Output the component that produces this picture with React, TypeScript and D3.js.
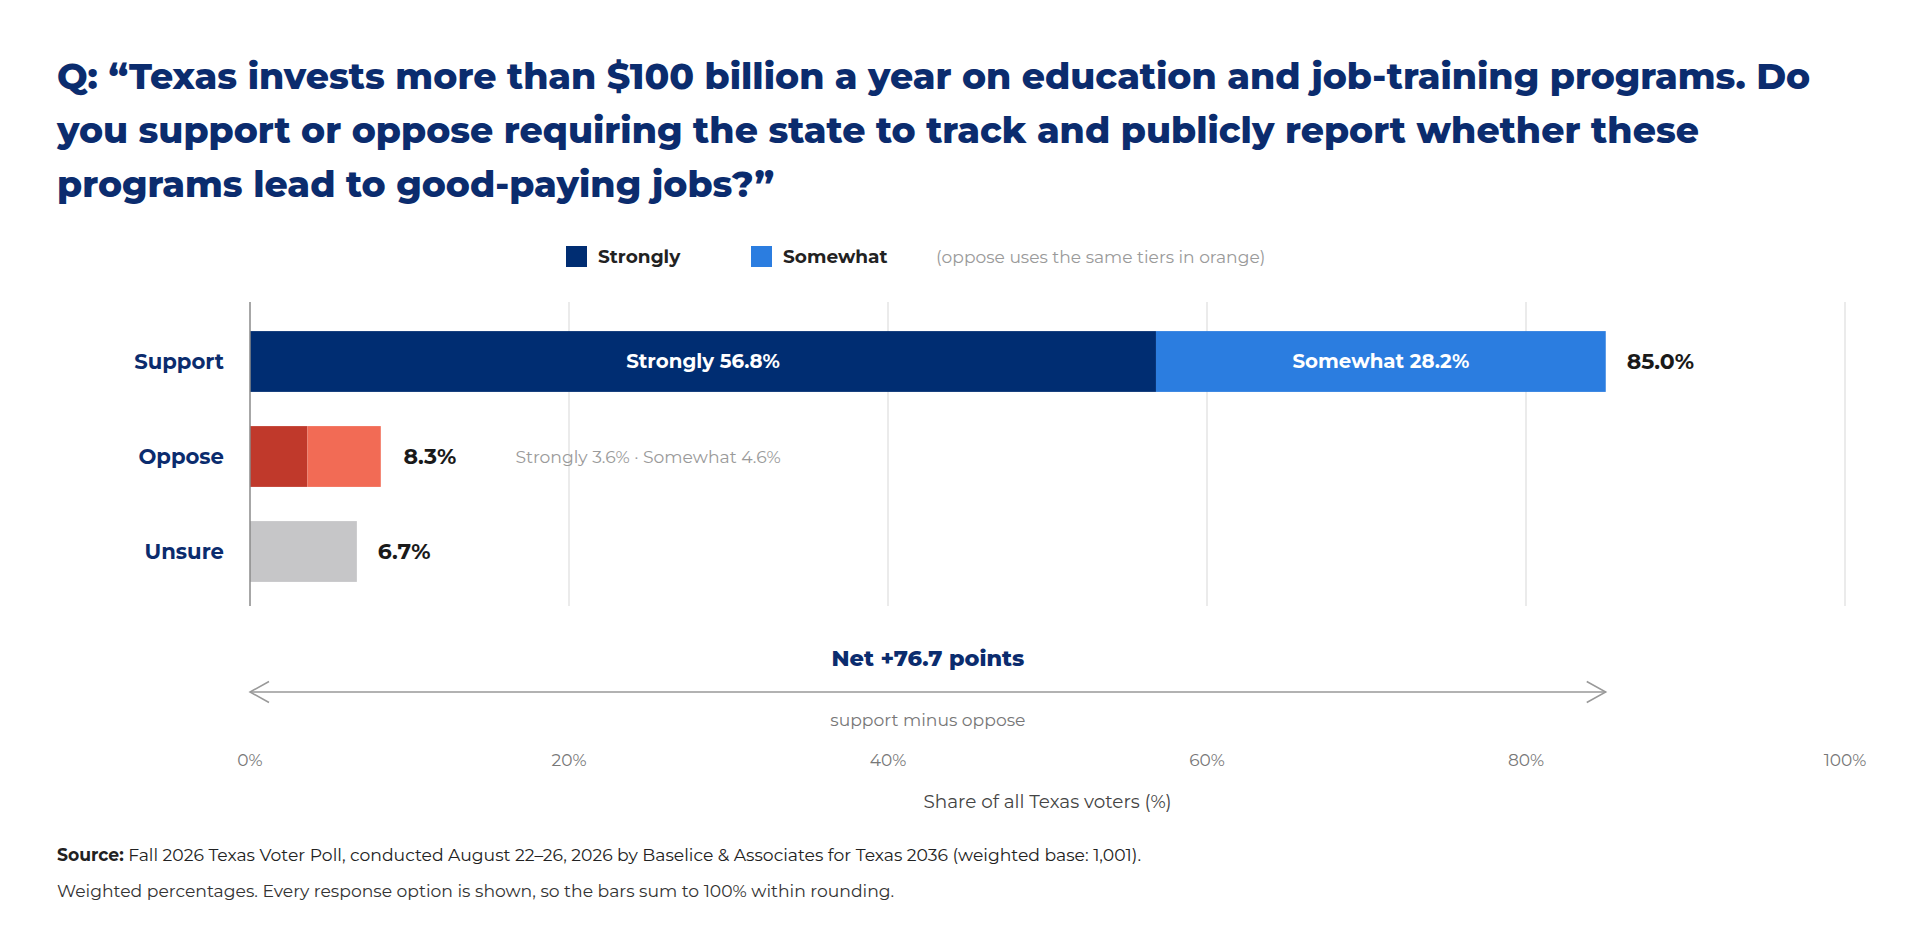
import { useEffect, useRef } from 'react'
import * as d3 from 'd3'

// Survey results (share of all Texas voters, %)
const categories = ['Support', 'Oppose', 'Unsure']
const stronglyValues = [56.8, 3.6, 0]
const somewhatValues = [28.2, 4.6, 0]
const totals = [85.0, 8.3, 6.7]
const xTicks = [0, 20, 40, 60, 80, 100]
const netValue = 76.7

const titleLines = [
  'Q: \u201cTexas invests more than $100 billion a year on education and job-training programs. Do',
  'you support or oppose requiring the state to track and publicly report whether these',
  'programs lead to good-paying jobs?\u201d',
]

const NAVY = '#0b2c6e'
const FONT = "Montserrat, 'Open Sans', sans-serif"

export default function App() {
  const svgRef = useRef<SVGSVGElement>(null)

  useEffect(() => {
    if (!svgRef.current) return
    const svg = d3.select(svgRef.current)
    svg.selectAll('*').remove()

    const width = 1918
    const height = 945
    const plotTop = 302
    const plotBottom = 606

    svg.append('rect').attr('width', width).attr('height', height).attr('fill', '#fff')

    // Title
    const title = svg.append('text')
      .attr('font-family', FONT)
      .attr('font-weight', 800)
      .attr('font-size', 36.2)
      .attr('fill', NAVY)
    titleLines.forEach((line, i) => {
      title.append('tspan').attr('x', 57).attr('y', 89 + i * 54).text(line)
    })

    const x = d3.scaleLinear().domain([0, 100]).range([250, 1845])
    const y = d3.scaleBand<string>()
      .domain(categories)
      .range([314, 599])
      .paddingInner(0.36)
      .paddingOuter(0.18)

    // Legend
    const legend = svg.append('g').attr('font-family', FONT)
    const legendItems = [
      { label: 'Strongly', color: '#002d72', x: 566 },
      { label: 'Somewhat', color: '#2b7de0', x: 751 },
    ]
    legendItems.forEach(d => {
      legend.append('rect').attr('x', d.x).attr('y', 246).attr('width', 21).attr('height', 21).attr('fill', d.color)
      legend.append('text').attr('x', d.x + 32).attr('y', 257).attr('dy', '0.35em')
        .attr('font-size', 18.5).attr('font-weight', 700).attr('fill', '#222').text(d.label)
    })
    legend.append('text').attr('x', 936).attr('y', 257).attr('dy', '0.35em')
      .attr('font-size', 17.1).attr('fill', '#9a9a9a').text('(oppose uses the same tiers in orange)')

    // Grid
    svg.append('g')
      .selectAll('line')
      .data(xTicks.slice(1))
      .join('line')
      .attr('x1', d => x(d)).attr('x2', d => x(d))
      .attr('y1', plotTop).attr('y2', plotBottom)
      .attr('stroke', '#e4e4e4').attr('stroke-width', 1.5)

    // Bars
    const barColors: Record<string, [string, string]> = {
      Support: ['#002d72', '#2b7de0'],
      Oppose: ['#c0392b', '#f26b55'],
    }
    const bars = svg.append('g')
    categories.forEach((cat, i) => {
      const y0 = y(cat)!
      const bh = y.bandwidth()
      if (barColors[cat]) {
        const s = stronglyValues[i]
        const w = somewhatValues[i]
        bars.append('rect').attr('x', x(0)).attr('y', y0).attr('width', x(s) - x(0)).attr('height', bh).attr('fill', barColors[cat][0])
        bars.append('rect').attr('x', x(s)).attr('y', y0).attr('width', x(s + w) - x(s)).attr('height', bh).attr('fill', barColors[cat][1])
      } else {
        bars.append('rect').attr('x', x(0)).attr('y', y0).attr('width', x(totals[i]) - x(0)).attr('height', bh).attr('fill', '#c6c6c8')
      }
    })

    // In-bar labels for Support
    const sIdx = 0
    const yc = y(categories[sIdx])! + y.bandwidth() / 2
    bars.append('text')
      .attr('x', x(stronglyValues[sIdx] / 2)).attr('y', yc).attr('dy', '0.35em')
      .attr('text-anchor', 'middle').attr('font-family', FONT).attr('font-weight', 700)
      .attr('font-size', 19.8).attr('fill', '#fff')
      .text(`Strongly ${stronglyValues[sIdx].toFixed(1)}%`)
    bars.append('text')
      .attr('x', x(stronglyValues[sIdx] + somewhatValues[sIdx] / 2)).attr('y', yc).attr('dy', '0.35em')
      .attr('text-anchor', 'middle').attr('font-family', FONT).attr('font-weight', 700)
      .attr('font-size', 19.8).attr('fill', '#fff')
      .text(`Somewhat ${somewhatValues[sIdx].toFixed(1)}%`)

    // Total labels
    svg.append('g')
      .selectAll('text')
      .data(categories)
      .join('text')
      .attr('x', (d, i) => x(totals[i]) + 21)
      .attr('y', d => y(d)! + y.bandwidth() / 2)
      .attr('dy', '0.35em')
      .attr('font-family', FONT).attr('font-weight', 700).attr('font-size', 22)
      .attr('fill', '#1a1a1a')
      .text((d, i) => `${totals[i].toFixed(1)}%`)

    // Oppose breakdown note
    const oIdx = 1
    svg.append('text')
      .attr('x', x(totals[oIdx]) + 133)
      .attr('y', y(categories[oIdx])! + y.bandwidth() / 2)
      .attr('dy', '0.35em')
      .attr('font-family', FONT).attr('font-size', 17.2).attr('fill', '#9a9a9a')
      .text(`Strongly ${stronglyValues[oIdx].toFixed(1)}% \u00b7 Somewhat ${somewhatValues[oIdx].toFixed(1)}%`)

    // Category labels
    svg.append('g')
      .selectAll('text')
      .data(categories)
      .join('text')
      .attr('x', 224)
      .attr('y', d => y(d)! + y.bandwidth() / 2)
      .attr('dy', '0.35em')
      .attr('text-anchor', 'end')
      .attr('font-family', FONT).attr('font-weight', 700).attr('font-size', 21.2)
      .attr('fill', NAVY)
      .text(d => d)

    // Zero line
    svg.append('line')
      .attr('x1', x(0)).attr('x2', x(0))
      .attr('y1', plotTop).attr('y2', plotBottom)
      .attr('stroke', '#8a8a8a').attr('stroke-width', 1.5)

    // Net annotation
    const arrowY = 692
    const ax0 = x(0)
    const ax1 = x(totals[0])
    const net = svg.append('g').attr('font-family', FONT)
    net.append('text')
      .attr('x', (ax0 + ax1) / 2).attr('y', 658).attr('dy', '0.35em')
      .attr('text-anchor', 'middle').attr('font-weight', 800).attr('font-size', 22.4)
      .attr('fill', NAVY).text(`Net +${netValue.toFixed(1)} points`)
    net.append('line')
      .attr('x1', ax0).attr('x2', ax1).attr('y1', arrowY).attr('y2', arrowY)
      .attr('stroke', '#999').attr('stroke-width', 1.5)
    net.append('path')
      .attr('d', `M${ax0 + 19},${arrowY - 10.5}L${ax0},${arrowY}L${ax0 + 19},${arrowY + 10.5}`)
      .attr('fill', 'none').attr('stroke', '#999').attr('stroke-width', 1.5)
    net.append('path')
      .attr('d', `M${ax1 - 19},${arrowY - 10.5}L${ax1},${arrowY}L${ax1 - 19},${arrowY + 10.5}`)
      .attr('fill', 'none').attr('stroke', '#999').attr('stroke-width', 1.5)
    net.append('text')
      .attr('x', (ax0 + ax1) / 2).attr('y', 720).attr('dy', '0.35em')
      .attr('text-anchor', 'middle').attr('font-size', 17.2)
      .attr('fill', '#777').text('support minus oppose')

    // X axis tick labels
    svg.append('g')
      .selectAll('text')
      .data(xTicks)
      .join('text')
      .attr('x', d => x(d)).attr('y', 760).attr('dy', '0.35em')
      .attr('text-anchor', 'middle')
      .attr('font-family', FONT).attr('font-size', 17).attr('fill', '#777')
      .text(d => `${d}%`)

    svg.append('text')
      .attr('x', (x(0) + x(100)) / 2).attr('y', 802).attr('dy', '0.35em')
      .attr('text-anchor', 'middle')
      .attr('font-family', FONT).attr('font-size', 18.4).attr('fill', '#444')
      .text('Share of all Texas voters (%)')

    // Footer
    const src = svg.append('text')
      .attr('x', 57).attr('y', 861)
      .attr('font-family', FONT).attr('font-size', 17.2).attr('fill', '#222')
    src.append('tspan').attr('font-weight', 700).text('Source:')
    src.append('tspan').text(' Fall 2026 Texas Voter Poll, conducted August 22\u201326, 2026 by Baselice & Associates for Texas 2036 (weighted base: 1,001).')
    svg.append('text')
      .attr('x', 57).attr('y', 897)
      .attr('font-family', FONT).attr('font-size', 17.2).attr('fill', '#333')
      .text('Weighted percentages. Every response option is shown, so the bars sum to 100% within rounding.')
  }, [])

  return (
    <div style={{ position: 'absolute', left: 0, top: 0 }}>
      <svg ref={svgRef} width={1918} height={945} style={{ display: 'block' }} />
    </div>
  )
}
